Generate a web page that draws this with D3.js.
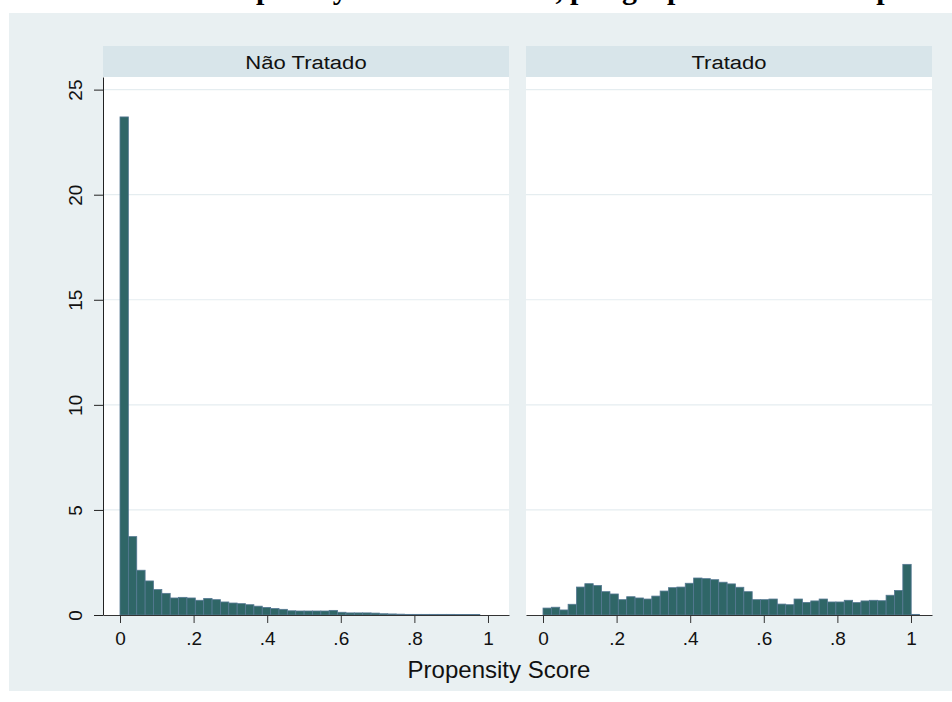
<!DOCTYPE html>
<html>
<head>
<meta charset="utf-8">
<script src="https://cdn.jsdelivr.net/npm/d3@7"></script>
<style>
  body { margin: 0; background: #fff; }
  svg { display: block; }
  text { font-family: "Liberation Sans", Arial, sans-serif; }
</style>
</head>
<body>
<svg id="chart" width="952" height="702"></svg>
<script>
// histogram densities, one value per bin (bin width ~0.0227, starting at 0)
var binWidth = 0.02274;
var panels = ["Não Tratado", "Tratado"];
var naoTratado = [23.7, 3.73, 2.13, 1.62, 1.21, 1.03, 0.81, 0.84, 0.81, 0.70,
  0.79, 0.73, 0.62, 0.57, 0.54, 0.49, 0.42, 0.36, 0.31, 0.27,
  0.20, 0.19, 0.19, 0.19, 0.19, 0.22, 0.13, 0.10, 0.10, 0.10,
  0.09, 0.06, 0.05, 0.04, 0.03, 0.03, 0.03, 0.03, 0.03, 0.03,
  0.02, 0.02, 0.02, 0, 0];
var tratado = [0.33, 0.37, 0.24, 0.51, 1.33, 1.49, 1.40, 1.11, 1.00, 0.73,
  0.87, 0.81, 0.76, 0.90, 1.14, 1.30, 1.33, 1.51, 1.76, 1.73,
  1.68, 1.56, 1.48, 1.32, 1.11, 0.73, 0.73, 0.76, 0.52, 0.49,
  0.76, 0.60, 0.67, 0.76, 0.62, 0.62, 0.70, 0.59, 0.67, 0.70,
  0.68, 0.94, 1.17, 2.41, 0.03];
var xTicks = [0, 0.2, 0.4, 0.6, 0.8, 1];
var yTicks = [0, 5, 10, 15, 20, 25];
var xTitle = "Propensity Score";
// title is cut off by the top edge in the reference, only descenders show
var titleLeft = "Densidade do Propensity Score Estimado,";
var titleRight = "por grupo de controle e pareamento";

var svg = d3.select("#chart");

// graph region
svg.append("rect").attr("x", 9).attr("y", 13).attr("width", 943).attr("height", 678)
  .attr("fill", "#e9f0f2");

var serif = "'Liberation Serif', 'Times New Roman', serif";
svg.append("text").attr("x", 563).attr("y", -1.5).attr("text-anchor", "end")
  .style("font-family", serif).style("font-weight", "bold").style("font-size", "30px")
  .attr("fill", "#000").text(titleLeft);
svg.append("text").attr("x", 570).attr("y", -1.5)
  .style("font-family", serif).style("font-weight", "bold").style("font-size", "30px")
  .attr("fill", "#000").text(titleRight);

var plotTop = 77, plotBottom = 615;
var y = d3.scaleLinear().domain([0, 25.6]).range([plotBottom, plotTop]);
var panelLeft = [103, 526], panelWidth = 406;
var data = [naoTratado, tratado];

panels.forEach(function(name, p) {
  var left = panelLeft[p];
  var x = d3.scaleLinear().domain([-0.0462, 1.0571]).range([left, left + panelWidth]);
  var g = svg.append("g");

  // strip
  g.append("rect").attr("x", left).attr("y", 46).attr("width", panelWidth).attr("height", 31)
    .attr("fill", "#d8e5ea");
  g.append("text")
    .attr("transform", "translate(" + (left + panelWidth / 2) + ",68.5) scale(1.05,0.86)")
    .attr("text-anchor", "middle").style("font-size", "21px").attr("fill", "#111")
    .text(name);

  // plot region
  g.append("rect").attr("x", left).attr("y", plotTop).attr("width", panelWidth)
    .attr("height", plotBottom - plotTop).attr("fill", "#fff");

  // gridlines
  g.selectAll(".grid").data(yTicks.slice(1)).enter().append("line")
    .attr("x1", left).attr("x2", left + panelWidth)
    .attr("y1", function(d) { return y(d); }).attr("y2", function(d) { return y(d); })
    .attr("stroke", "#e5edf0").attr("stroke-width", 1.2);

  // bars
  var bins = data[p].map(function(v, i) { return {i: i, v: v}; })
    .filter(function(d) { return d.v > 0; });
  g.selectAll(".bar").data(bins).enter().append("rect")
    .attr("class", "bar")
    .attr("x", function(d) { return x(d.i * binWidth); })
    .attr("width", function(d) { return x((d.i + 1) * binWidth) - x(d.i * binWidth); })
    .attr("y", function(d) { return y(d.v); })
    .attr("height", function(d) { return y(0) - y(d.v); })
    .attr("fill", "#2f6667").attr("stroke", "#557892").attr("stroke-width", 0.8);

  // x axis
  var xa = g.append("g").attr("transform", "translate(0," + plotBottom + ")")
    .call(d3.axisBottom(x).tickValues(xTicks).tickSize(8).tickSizeOuter(0).tickPadding(9)
      .tickFormat(function(d) { return d === 0 ? "0" : d === 1 ? "1" : d3.format(".1f")(d).replace("0.", "."); }));
  xa.select(".domain").attr("stroke", "#333");
  xa.selectAll(".tick line").attr("stroke", "#333");
  xa.selectAll("text").style("font-size", "19px").attr("fill", "#111").style("font-family", null);

  // y axis only on first panel
  if (p === 0) {
    var ya = g.append("g").attr("transform", "translate(" + left + ",0)")
      .call(d3.axisLeft(y).tickValues(yTicks).tickSize(9).tickSizeOuter(0));
    ya.select(".domain").attr("stroke", "#222");
    ya.selectAll(".tick line").attr("stroke", "#222");
    ya.selectAll("text").attr("x", null).attr("dy", null)
      .attr("text-anchor", "middle")
      .attr("transform", "translate(-21,0) rotate(-90)")
      .style("font-size", "19px").attr("fill", "#111").style("font-family", null);
  }
});

svg.append("text").attr("x", 499).attr("y", 678).attr("text-anchor", "middle")
  .style("font-size", "24px").attr("fill", "#111").text(xTitle);
</script>
</body>
</html>
